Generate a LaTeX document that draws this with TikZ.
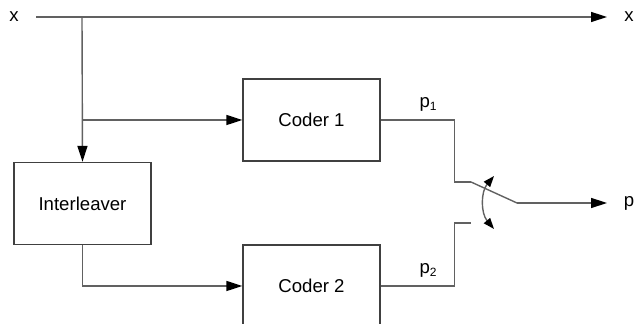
\documentclass[tikz,border=0pt]{standalone}
\usepackage{fontspec}
\setmainfont{Liberation Sans}
\usetikzlibrary{arrows.meta}
\begin{document}
\begin{tikzpicture}[x=0.5pt,y=-0.5pt,
  every node/.style={font=\fontsize{9.3}{11}\selectfont},
  blk/.style={draw=black!75,line width=0.65pt,minimum width=68.5pt,minimum height=41pt,inner sep=0pt},
  wire/.style={draw=black!62,line width=0.7pt},
  arr/.style={wire,-{Triangle[length=8pt,width=5pt,color=black]}},
  dblarr/.style={wire,{Triangle[length=5.5pt,width=4pt,color=black]}-{Triangle[length=5.5pt,width=4pt,color=black]}},
  sub/.style={font=\fontsize{9.3}{11}\selectfont}]
\useasboundingbox (0,0) rectangle (635,324);
\clip (0,0) rectangle (635,324);
% nodes
\node (xin) at (14,17) {x};
\node (xout) at (629,17) {x};
\node (pout) at (629,203) {p};
\node[blk] (il) at (82.5,203.5) {Interleaver};
\node[blk] (c1) at (311.5,120) {Coder 1};
\node[blk] (c2) at (311.5,286) {Coder 2};
\node[sub] (p1) at (428,104) {p\raisebox{-0.35ex}{\fontsize{6}{7}\selectfont 1}};
\node[sub] (p2) at (428,270) {p\raisebox{-0.35ex}{\fontsize{6}{7}\selectfont 2}};
% coordinates
\coordinate (xstart) at (36,17);
\coordinate (xtip) at (607,17);
\coordinate (b0) at (82,17);
\coordinate (b1) at (82,120);
\coordinate (s1) at (471,182);
\coordinate (s2) at (471,223);
\coordinate (pole) at (517,203);
\coordinate (ptip) at (607,203);
\coordinate (sw1) at (494,176);
\coordinate (sw2) at (494,229);
% connectors
\draw[arr] (xstart) -- (xtip);
\draw[arr] (b0) -- (il.north);
\draw[arr] (b1) -- (c1.west);
\draw[arr] (il.south) |- (c2.west);
\draw[wire] (c1.east) -- ++(74,0) |- (s1);
\draw[wire] (c2.east) -- ++(74,0) |- (s2);
\draw[wire] (s1) -- (pole);
\draw[arr] (pole) -- (ptip);
\draw[dblarr] (sw1) to[bend right=40] (sw2);
\end{tikzpicture}
\end{document}
